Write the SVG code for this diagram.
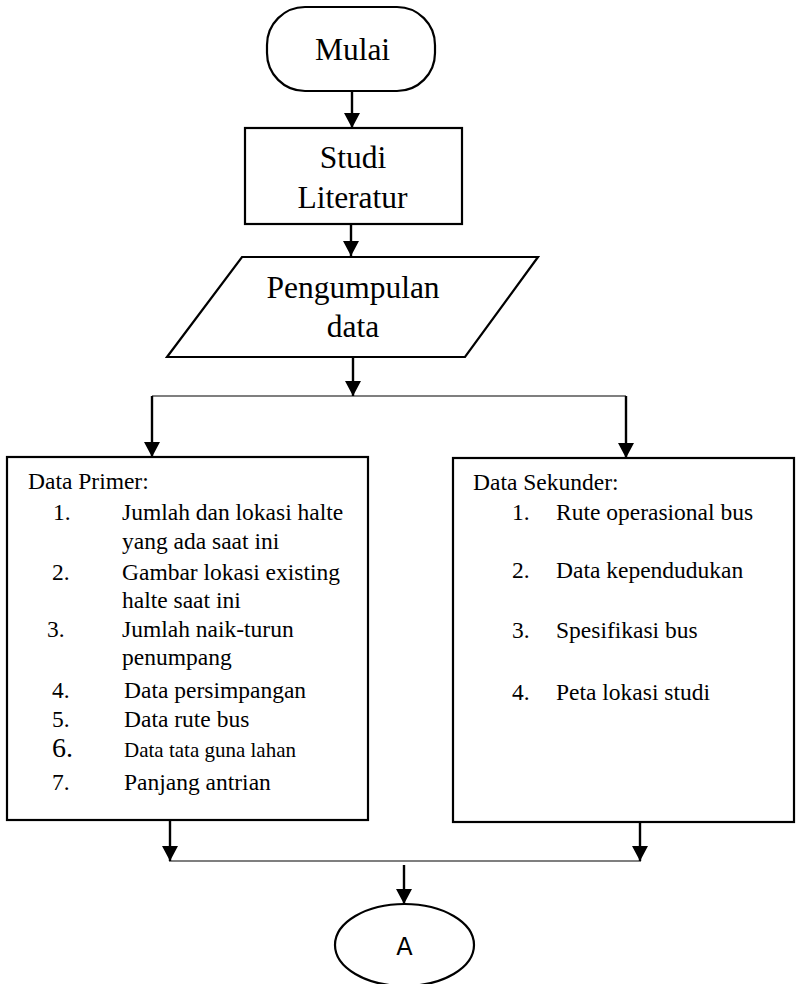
<svg xmlns="http://www.w3.org/2000/svg" width="796" height="984" viewBox="0 0 796 984">
<style>
.shape{fill:#fff;stroke:#000;stroke-width:2.2}
.t{font-family:"Liberation Serif","Times New Roman",serif;fill:#000}
.big{font-size:31.5px;text-anchor:middle}
.mid{font-size:23.5px}
.sm{font-size:21px}
.six{font-size:28px}
.conn{fill:none;stroke:#000;stroke-width:2.4}
.thin{fill:none;stroke:#000;stroke-width:1.2}
</style>
<defs>
<marker id="ah" markerUnits="userSpaceOnUse" markerWidth="16" markerHeight="16" refX="15" refY="8" orient="auto">
<path d="M0,0 L15,8 L0,16 Z" fill="#000"/>
</marker>
</defs>
<rect width="796" height="984" fill="#fff"/>
<g id="connectors">
<line class="conn" x1="352" y1="91" x2="352" y2="128" marker-end="url(#ah)"/>
<line class="conn" x1="351" y1="213" x2="351" y2="256" marker-end="url(#ah)"/>
<line class="conn" x1="353" y1="357" x2="353" y2="396" marker-end="url(#ah)"/>
<polyline class="thin" points="152,396 626,396"/>
<line class="conn" x1="152" y1="396" x2="152" y2="457" marker-end="url(#ah)"/>
<line class="conn" x1="626" y1="396" x2="626" y2="458" marker-end="url(#ah)"/>
<line class="conn" x1="170" y1="820" x2="170" y2="861" marker-end="url(#ah)"/>
<line class="conn" x1="640" y1="822" x2="640" y2="861" marker-end="url(#ah)"/>
<line class="thin" x1="169" y1="861" x2="641" y2="861"/>
<line class="conn" x1="404" y1="865" x2="404" y2="904" marker-end="url(#ah)"/>
</g>
<g id="mulai">
<rect class="shape" x="267" y="7" width="168" height="84" rx="38" ry="38"/>
<text class="t big" x="352.5" y="60">Mulai</text>
</g>
<g id="studi">
<rect class="shape" x="245" y="128" width="217" height="96"/>
<text class="t big" x="353" y="168">Studi</text>
<text class="t big" x="352.5" y="208">Literatur</text>
</g>
<g id="pengumpulan">
<polygon class="shape" points="242,257 538,257 465,357 167,357"/>
<text class="t big" x="353" y="298">Pengumpulan</text>
<text class="t big" x="353" y="337">data</text>
</g>
<g id="primer">
<rect class="shape" x="7" y="457" width="361" height="363"/>
<text class="t mid" x="28" y="489">Data Primer:</text>
<text class="t mid" x="53" y="520">1.</text>
<text class="t mid" x="122" y="520">Jumlah dan lokasi halte</text>
<text class="t mid" x="122" y="549">yang ada saat ini</text>
<text class="t mid" x="52" y="580">2.</text>
<text class="t mid" x="122" y="580">Gambar lokasi existing</text>
<text class="t mid" x="122" y="608">halte saat ini</text>
<text class="t mid" x="47" y="637">3.</text>
<text class="t mid" x="122" y="637">Jumlah naik-turun</text>
<text class="t mid" x="122" y="665">penumpang</text>
<text class="t mid" x="52" y="698">4.</text>
<text class="t mid" x="124" y="698">Data persimpangan</text>
<text class="t mid" x="52" y="727">5.</text>
<text class="t mid" x="124" y="727">Data rute bus</text>
<text class="t six" x="52" y="757">6.</text>
<text class="t sm" x="124" y="757">Data tata guna lahan</text>
<text class="t mid" x="52" y="790">7.</text>
<text class="t mid" x="124" y="790">Panjang antrian</text>
</g>
<g id="sekunder">
<rect class="shape" x="453" y="458" width="341" height="364"/>
<text class="t mid" x="473" y="490">Data Sekunder:</text>
<text class="t mid" x="512" y="520">1.</text>
<text class="t mid" x="556" y="520">Rute operasional bus</text>
<text class="t mid" x="512" y="578">2.</text>
<text class="t mid" x="556" y="578">Data kependudukan</text>
<text class="t mid" x="512" y="638">3.</text>
<text class="t mid" x="556" y="638">Spesifikasi bus</text>
<text class="t mid" x="512" y="700">4.</text>
<text class="t mid" x="556" y="700">Peta lokasi studi</text>
</g>
<g id="a">
<ellipse class="shape" cx="404.5" cy="945" rx="69.5" ry="41"/>
<text x="404.5" y="955" font-family="DejaVu Sans, sans-serif" font-size="24" text-anchor="middle">A</text>
</g>
</svg>
